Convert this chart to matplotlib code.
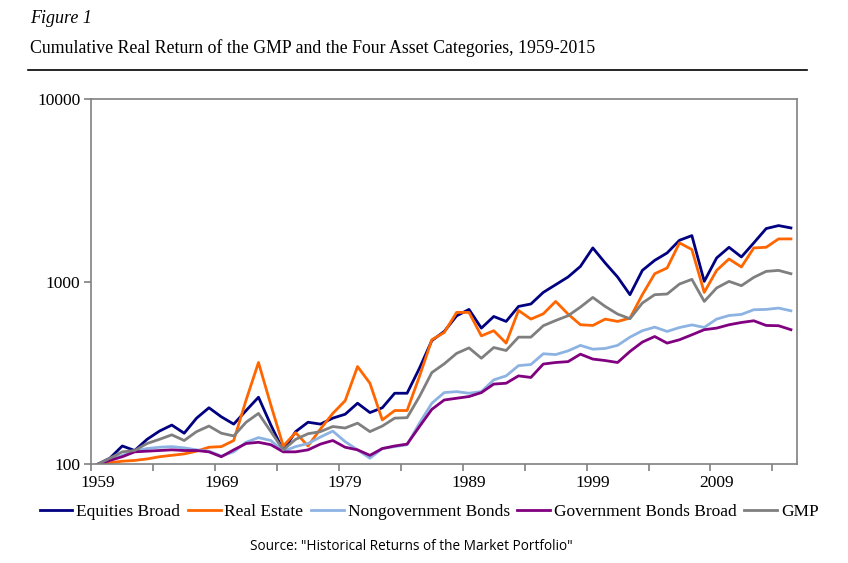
import matplotlib.pyplot as plt
import numpy as np

years = np.arange(1959, 2016)

equities = [100, 108, 126, 119, 137, 152, 164, 148, 179, 204,
            182, 166, 197, 233, 164, 119, 151, 170, 166, 179,
            188, 216, 192, 204, 245, 245, 336, 476, 534, 650,
            705, 557, 645, 606, 732, 755, 874, 963, 1061, 1213,
            1531, 1266, 1061, 849, 1153, 1309, 1437, 1686, 1788, 1004,
            1349, 1543, 1366, 1631, 1954, 2029, 1970]
real_estate = [100, 102, 104, 105, 107, 110, 112, 114, 118, 124,
               125, 135, 225, 361, 211, 126, 149, 126, 156, 190,
               223, 343, 278, 175, 197, 197, 303, 481, 527, 679,
               679, 505, 539, 461, 696, 624, 667, 780, 665, 581,
               576, 624, 606, 632, 849, 1106, 1189, 1631, 1500, 874,
               1153, 1332, 1204, 1531, 1543, 1715, 1715]
nongov_bonds = [100, 106, 112, 118, 122, 124, 125, 123, 120, 118,
                111, 117, 132, 140, 135, 118, 125, 130, 141, 152,
                133, 120, 108, 122, 125, 128, 168, 216, 247, 250,
                245, 250, 290, 305, 347, 352, 403, 399, 418, 448,
                427, 431, 448, 497, 539, 564, 534, 561, 580, 562,
                624, 653, 662, 702, 705, 717, 693]
gov_bonds = [100, 105, 110, 117, 118, 119, 120, 119, 119, 117,
             110, 120, 130, 132, 128, 117, 117, 120, 129, 135,
             124, 120, 112, 122, 126, 129, 161, 200, 225, 230,
             235, 247, 275, 278, 305, 299, 354, 361, 365, 401,
             377, 370, 361, 415, 467, 501, 461, 481, 512, 546,
             557, 581, 598, 611, 576, 574, 546]
gmp = [100, 108, 117, 119, 130, 137, 145, 135, 151, 162,
       148, 143, 170, 190, 151, 120, 137, 147, 151, 161,
       158, 168, 151, 162, 179, 180, 235, 318, 355, 405,
       434, 381, 436, 420, 497, 497, 574, 613, 651, 726,
       820, 732, 665, 627, 764, 849, 856, 971, 1030, 780,
       924, 1004, 951, 1056, 1139, 1153, 1106]

names = ['Equities Broad', 'Real Estate', 'Nongovernment Bonds',
         'Government Bonds Broad', 'GMP']
colors = ['#000080', '#FF6600', '#8DB3E2', '#800080', '#7F7F7F']
series = [equities, real_estate, nongov_bonds, gov_bonds, gmp]

serif = 'Liberation Serif'

fig = plt.figure(figsize=(8.48, 5.63), dpi=100)
ax = fig.add_axes([0.1077, 0.1753, 0.8323, 0.6487])

# points sit between the tick marks, like an Excel category axis
xs = years + 0.5
for vals, name, c in zip(series, names, colors):
    ax.plot(xs, vals, color=c, lw=2.0, label=name)

ax.set_yscale('log')
ax.set_ylim(100, 10000)
ax.set_xlim(1959, 2016)
ax.set_yticks([100, 1000, 10000])
ax.set_yticklabels(['100', '1000', '10000'])
ax.yaxis.set_minor_locator(plt.NullLocator())

ax.set_xticks(np.arange(1959, 2016, 10) + 0.5)
ax.set_xticklabels([str(y) for y in range(1959, 2016, 10)])
ax.set_xticks(np.arange(1959, 2016, 5), minor=True)
ax.tick_params(axis='x', which='major', length=0, pad=8)
ax.tick_params(axis='x', which='minor', length=5, color='#808080', width=1.2)
ax.tick_params(axis='y', length=5, color='#808080', width=1.2, pad=3)
for lab in ax.get_xticklabels() + ax.get_yticklabels():
    lab.set_fontfamily(serif)
    lab.set_fontsize(12.5)

for s in ax.spines.values():
    s.set_color('#808080')
    s.set_linewidth(1.2)

fig.text(0.035, 0.968, 'Figure 1', family=serif, style='italic',
         fontsize=13, va='center')
fig.text(0.035, 0.914, 'Cumulative Real Return of the GMP and the Four Asset Categories, 1959-2015',
         family=serif, fontsize=12.8, va='center')
fig.add_artist(plt.Line2D([0.033, 0.952], [0.875, 0.875], color='black', lw=1.2))

fig.legend(loc='center', bbox_to_anchor=(0.506, 0.09), ncol=5, frameon=False,
           prop={'family': serif, 'size': 12.5}, handlelength=1.9,
           handletextpad=0.2, columnspacing=0.45)

fig.text(0.485, 0.03, 'Source: "Historical Returns of the Market Portfolio"',
         family='Open Sans', fontsize=9.8, ha='center', va='center')

plt.savefig('out.png', dpi=100)
